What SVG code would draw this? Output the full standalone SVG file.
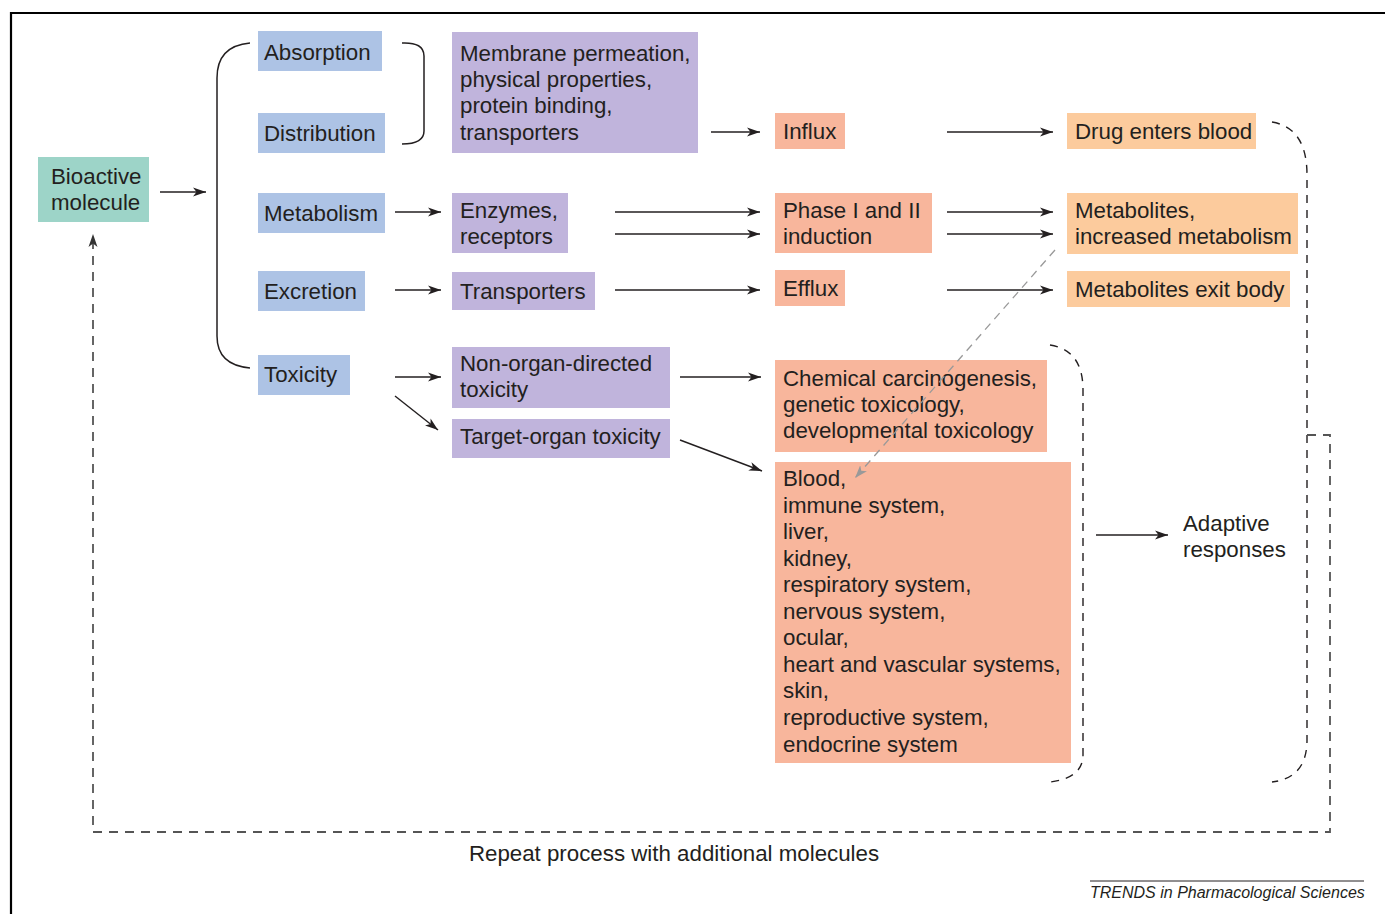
<svg xmlns="http://www.w3.org/2000/svg" width="1385" height="914" viewBox="0 0 1385 914">
<defs>
<style>
text{font-family:"Liberation Sans",Arial,sans-serif;font-size:22.3px;fill:#231f20}
.blue{fill:#adc3e5}
.purple{fill:#c0b4dc}
.salmon{fill:#f8b69c}
.peach{fill:#fccb9d}
.teal{fill:#9dd4c8}
.arr{stroke:#231f20;stroke-width:1.4;fill:none;marker-end:url(#ah)}
.brk{stroke:#231f20;stroke-width:1.5;fill:none}
.dbrk{stroke:#231f20;stroke-width:1.4;fill:none;stroke-dasharray:8 7}
.loop{stroke:#555;stroke-width:1.8;fill:none;stroke-dasharray:9 7}
</style>
<marker id="ah" markerUnits="userSpaceOnUse" markerWidth="14" markerHeight="10" refX="13" refY="5" orient="auto">
<path d="M0,0.5 L13,5 L0,9.5 L3.5,5 z" fill="#231f20"/>
</marker>
<marker id="ahg" markerUnits="userSpaceOnUse" markerWidth="14" markerHeight="10" refX="13" refY="5" orient="auto">
<path d="M0,0.5 L13,5 L0,9.5 L3.5,5 z" fill="#999"/>
</marker>
<marker id="ahl" markerUnits="userSpaceOnUse" markerWidth="14" markerHeight="10" refX="13" refY="5" orient="auto">
<path d="M0,0.5 L13,5 L0,9.5 L3.5,5 z" fill="#333"/>
</marker>
</defs>
<rect width="1385" height="914" fill="#fff"/>
<path d="M11,914 L11,13 L1385,13" fill="none" stroke="#000" stroke-width="2.2"/>

<g id="bioactive"><rect class="teal" x="38" y="157" width="111" height="65"/><text x="51" y="184">Bioactive</text><text x="51" y="210">molecule</text></g>
<g id="absorption"><rect class="blue" x="258" y="31" width="124" height="40"/><text x="264" y="60">Absorption</text></g>
<g id="distribution"><rect class="blue" x="258" y="113" width="127" height="40"/><text x="264" y="141">Distribution</text></g>
<g id="metabolism"><rect class="blue" x="258" y="193" width="127" height="40"/><text x="264" y="221">Metabolism</text></g>
<g id="excretion"><rect class="blue" x="258" y="271" width="107" height="40"/><text x="264" y="299">Excretion</text></g>
<g id="toxicity"><rect class="blue" x="258" y="355" width="92" height="40"/><text x="264" y="382">Toxicity</text></g>

<g id="membrane"><rect class="purple" x="452" y="32" width="246" height="121"/><text x="460" y="61">Membrane permeation,</text><text x="460" y="87">physical properties,</text><text x="460" y="113">protein binding,</text><text x="460" y="140">transporters</text></g>
<g id="enzymes"><rect class="purple" x="452" y="193" width="116" height="60"/><text x="460" y="218">Enzymes,</text><text x="460" y="244">receptors</text></g>
<g id="transporters"><rect class="purple" x="452" y="272" width="143" height="38"/><text x="460" y="299">Transporters</text></g>
<g id="nonorgan"><rect class="purple" x="452" y="347" width="218" height="61"/><text x="460" y="371">Non-organ-directed</text><text x="460" y="397">toxicity</text></g>
<g id="targetorgan"><rect class="purple" x="452" y="419" width="218" height="39"/><text x="460" y="444">Target-organ toxicity</text></g>

<g id="influx"><rect class="salmon" x="775" y="113" width="70" height="36"/><text x="783" y="139">Influx</text></g>
<g id="phase"><rect class="salmon" x="775" y="193" width="157" height="60"/><text x="783" y="218">Phase I and II</text><text x="783" y="244">induction</text></g>
<g id="efflux"><rect class="salmon" x="775" y="270" width="70" height="36"/><text x="783" y="296">Efflux</text></g>
<g id="chemical"><rect class="salmon" x="775" y="360" width="272" height="92"/><text x="783" y="386">Chemical carcinogenesis,</text><text x="783" y="412">genetic toxicology,</text><text x="783" y="438">developmental toxicology</text></g>
<g id="blood"><rect class="salmon" x="775" y="462" width="296" height="301"/>
<text x="783" y="486">Blood,</text><text x="783" y="513">immune system,</text><text x="783" y="539">liver,</text><text x="783" y="566">kidney,</text><text x="783" y="592">respiratory system,</text><text x="783" y="619">nervous system,</text><text x="783" y="645">ocular,</text><text x="783" y="672">heart and vascular systems,</text><text x="783" y="698">skin,</text><text x="783" y="725">reproductive system,</text><text x="783" y="752">endocrine system</text></g>

<g id="drugblood"><rect class="peach" x="1067" y="113" width="189" height="36"/><text x="1075" y="139">Drug enters blood</text></g>
<g id="metabolites"><rect class="peach" x="1067" y="193" width="231" height="61"/><text x="1075" y="218">Metabolites,</text><text x="1075" y="244">increased metabolism</text></g>
<g id="exitbody"><rect class="peach" x="1067" y="271" width="223" height="36"/><text x="1075" y="297">Metabolites exit body</text></g>
<g id="adaptive"><text x="1183" y="531">Adaptive</text><text x="1183" y="557">responses</text></g>

<g id="connectors">
<path class="brk" d="M250,43 Q217,46 217,78 L217,336 Q217,365 250,368"/>
<path class="brk" d="M402,43 Q424,42 424,56 L424,131 Q424,144 402,144"/>
<line class="arr" x1="160" y1="192" x2="206" y2="192"/>
<line class="arr" x1="711" y1="132" x2="760" y2="132"/>
<line class="arr" x1="947" y1="132" x2="1053" y2="132"/>
<line class="arr" x1="395" y1="212" x2="441" y2="212"/>
<line class="arr" x1="615" y1="212" x2="760" y2="212"/>
<line class="arr" x1="615" y1="234" x2="760" y2="234"/>
<line class="arr" x1="947" y1="212" x2="1053" y2="212"/>
<line class="arr" x1="947" y1="234" x2="1053" y2="234"/>
<line class="arr" x1="395" y1="290" x2="441" y2="290"/>
<line class="arr" x1="615" y1="290" x2="760" y2="290"/>
<line class="arr" x1="947" y1="290" x2="1053" y2="290"/>
<line class="arr" x1="395" y1="377" x2="441" y2="377"/>
<line class="arr" x1="395" y1="396" x2="438" y2="430"/>
<line class="arr" x1="680" y1="377" x2="761" y2="377"/>
<line class="arr" x1="680" y1="440" x2="762" y2="471"/>
<line class="arr" x1="1096" y1="535" x2="1168" y2="535"/>
<line x1="1055" y1="250" x2="855" y2="478" stroke="#999" stroke-width="1.3" stroke-dasharray="8 6" marker-end="url(#ahg)"/>
<path class="dbrk" d="M1050,345 Q1083,350 1083,390 L1083,755 Q1083,778 1050,782"/>
<path class="dbrk" d="M1272,122 Q1307,128 1307,175 L1307,740 Q1307,778 1272,782"/>
<path class="loop" d="M1307,435 L1330,435 L1330,832 L93,832 L93,234" marker-end="url(#ahl)"/>
</g>
<text x="674" y="861" text-anchor="middle">Repeat process with additional molecules</text>
<line x1="1090" y1="881" x2="1364" y2="881" stroke="#231f20" stroke-width="1"/>
<text x="1090" y="898" font-style="italic" style="font-size:16px">TRENDS in Pharmacological Sciences</text>
</svg>
